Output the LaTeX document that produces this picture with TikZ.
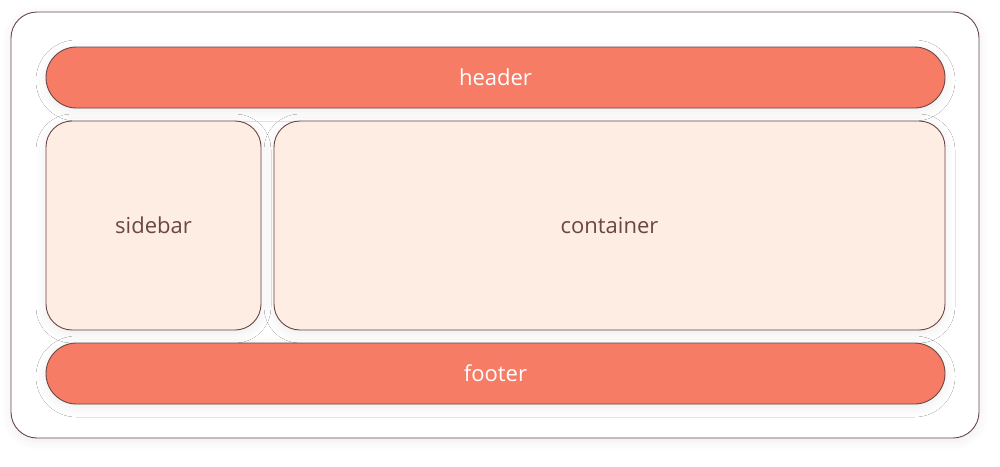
\documentclass[tikz,border=0pt]{standalone}
\usepackage{fontspec}
\setmainfont{Open Sans}
\usepackage{tikz}
\usetikzlibrary{positioning}
\usetikzlibrary{shadows.blur}

\definecolor{edgebrown}{HTML}{6B4646}
\definecolor{salmon}{HTML}{F67C65}
\definecolor{peach}{HTML}{FEEDE3}

\tikzset{
  box/.style={draw=edgebrown, line width=0.9pt, inner sep=0pt,
              blur shadow={shadow xshift=0pt, shadow yshift=-3pt,
                           shadow blur radius=10pt, shadow opacity=8,
                           shadow blur extra rounding=10pt},
              font=\fontsize{22}{26}\selectfont},
  bar/.style={box, fill=salmon, text=white, rounded corners=30.5pt},
  panel/.style={box, fill=peach, text=edgebrown, rounded corners=26pt},
}

\begin{document}
\begin{tikzpicture}[x=1pt, y=-1pt]
\useasboundingbox (0,0) rectangle (1000,466);
\node (frame) [box, fill=white, rounded corners=26pt,
               minimum width=968pt, minimum height=426pt] at (495,225) {};
\node (header) [bar, minimum width=899pt, minimum height=61pt] at (495.5,77.5) {header};
\node (sidebar) [panel, minimum width=215pt, minimum height=209pt] at (153.5,225.5) {sidebar};
\node (container) [panel, minimum width=671pt, minimum height=209pt] at (609.5,225.5) {container};
\node (footer) [bar, minimum width=899pt, minimum height=61pt] at (495.5,373.5) {footer};
\end{tikzpicture}
\end{document}
